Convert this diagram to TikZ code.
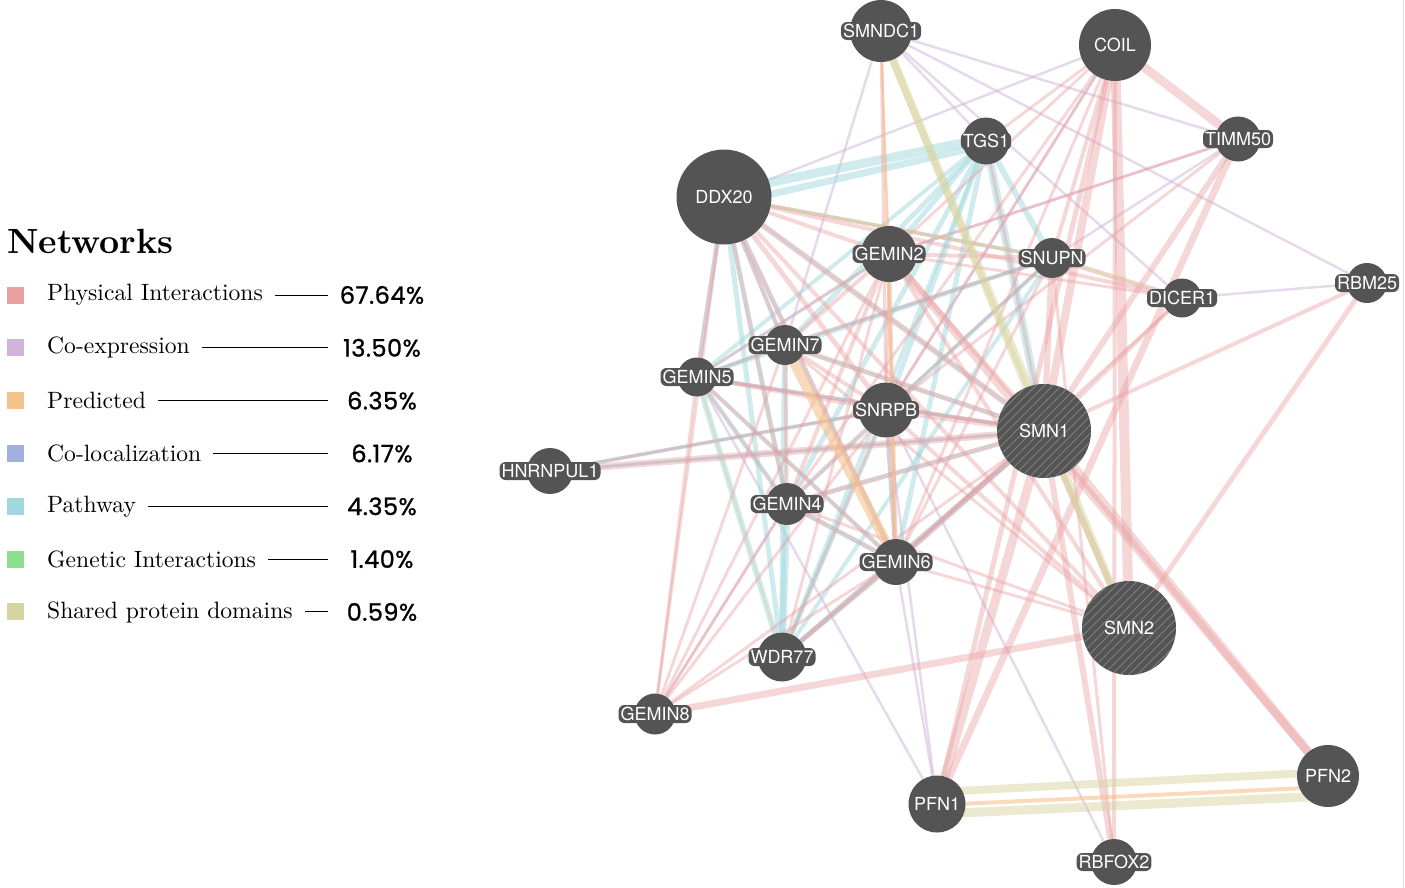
\documentclass[tikz,border=0pt]{standalone}
\usepackage{amsmath, amssymb}
\usepackage{graphicx}
\usepackage{fontspec}
\usetikzlibrary{backgrounds,patterns.meta}
\newfontfamily\heros{TeX Gyre Heros}
\newfontfamily\pctfont{Poppins}[FakeBold=1, LetterSpace=2]
\definecolor{nodegray}{HTML}{545454}
\definecolor{physc}{HTML}{E8A0A2}
\definecolor{coexpc}{HTML}{D0B4DA}
\definecolor{predc}{HTML}{F6C28C}
\definecolor{colocc}{HTML}{A0B2DC}
\definecolor{pathc}{HTML}{A0D8DE}
\definecolor{genc}{HTML}{8EE08E}
\definecolor{sharedc}{HTML}{D8D4A2}
\tikzset{
	gene/.style={circle, fill=nodegray, inner sep=0pt, minimum size=#1},
	hatched/.style={postaction={pattern={Lines[angle=45,distance=6pt,line width=0.9pt]}, pattern color=gray}},
	plainlbl/.style={text=white, font=\heros\fontsize{18}{18}\selectfont, text height=13pt, text depth=0pt, inner xsep=2pt, inner ysep=2.5pt},
	lbl/.style={plainlbl, fill=nodegray, rounded corners=6pt},
	physedge/.style={draw=physc, draw opacity=.42, line width=#1},
	coexpedge/.style={draw=coexpc, draw opacity=.5, line width=#1},
	prededge/.style={draw=predc, draw opacity=.6, line width=#1},
	pathedge/.style={draw=pathc, draw opacity=.5, line width=#1},
	sharededge/.style={draw=sharedc, draw opacity=.5, line width=#1},
	legbox/.style={fill=#1, minimum size=17pt, inner sep=0pt},
	legtxt/.style={anchor=west, inner sep=0pt},
	legpct/.style={inner sep=0pt, font=\pctfont\fontsize{24}{24}\selectfont}
}
\begin{document}
\begin{tikzpicture}[x=1pt, y=-1pt]
		\useasboundingbox (0,0) rectangle (1405,887);
		\node[gene=62pt, label={[lbl]center:SMNDC1}] (SMNDC1) at (881,31) {};
		\node[gene=72pt, label={[lbl]center:COIL}] (COIL) at (1115,45) {};
		\node[gene=47pt, label={[lbl]center:TGS1}] (TGS1) at (986,141) {};
		\node[gene=45pt, label={[lbl]center:TIMM50}] (TIMM50) at (1238,139) {};
		\node[gene=95pt, label={[lbl]center:DDX20}] (DDX20) at (724,197) {};
		\node[gene=56pt, label={[lbl]center:GEMIN2}] (GEMIN2) at (889,254) {};
		\node[gene=40pt, label={[lbl]center:SNUPN}] (SNUPN) at (1052,258) {};
		\node[gene=39pt, label={[lbl]center:DICER1}] (DICER1) at (1182,298) {};
		\node[gene=40pt, label={[lbl]center:RBM25}] (RBM25) at (1367,283) {};
		\node[gene=40pt, label={[lbl]center:GEMIN7}] (GEMIN7) at (785,345) {};
		\node[gene=39pt, label={[lbl]center:GEMIN5}] (GEMIN5) at (697,377) {};
		\node[gene=55pt, label={[lbl]center:SNRPB}] (SNRPB) at (886,410) {};
		\node[gene=94pt, hatched, label={[plainlbl]center:SMN1}] (SMN1) at (1044,431) {};
		\node[gene=46pt, label={[lbl]center:HNRNPUL1}] (HNRNPUL1) at (550,471) {};
		\node[gene=42pt, label={[lbl]center:GEMIN4}] (GEMIN4) at (787,504) {};
		\node[gene=46pt, label={[lbl]center:GEMIN6}] (GEMIN6) at (896,562) {};
		\node[gene=94pt, hatched, label={[plainlbl]center:SMN2}] (SMN2) at (1129,628) {};
		\node[gene=49pt, label={[lbl]center:WDR77}] (WDR77) at (782,657) {};
		\node[gene=41pt, label={[lbl]center:GEMIN8}] (GEMIN8) at (655,714) {};
		\node[gene=57pt, label={[lbl]center:PFN1}] (PFN1) at (937,804) {};
		\node[gene=62pt, label={[lbl]center:PFN2}] (PFN2) at (1328,776) {};
		\node[gene=46pt, label={[lbl]center:RBFOX2}] (RBFOX2) at (1114,862) {};
		\begin{scope}[on background layer]
			\foreach \a/\b in {SMNDC1/TIMM50, SMNDC1/RBM25, SMNDC1/TGS1, SMNDC1/DICER1, SMNDC1/GEMIN7, DDX20/COIL, COIL/SNRPB, TIMM50/SNUPN, TIMM50/GEMIN2, DICER1/RBM25, PFN1/SNRPB, PFN1/GEMIN5, SNRPB/RBFOX2, HNRNPUL1/SMN1, HNRNPUL1/SNRPB, GEMIN8/GEMIN4, SMN1/GEMIN5, GEMIN6/PFN1}
				\draw[coexpedge=2.5pt] (\a) -- (\b);
			\foreach \a/\b/\w in {TGS1/GEMIN2/5pt, TGS1/SNRPB/5pt, TGS1/GEMIN7/5pt, TGS1/GEMIN5/4pt, TGS1/GEMIN4/5pt, TGS1/GEMIN6/5pt, TGS1/SMN1/8pt, TGS1/SNUPN/6pt, TGS1/WDR77/4pt, SNUPN/GEMIN5/4pt, SNUPN/GEMIN7/4pt, SNUPN/DDX20/3pt, SNUPN/GEMIN4/4pt, SNUPN/WDR77/4pt, SNUPN/SNRPB/3pt, DDX20/GEMIN5/5pt, DDX20/GEMIN4/5pt, DDX20/WDR77/5pt, DDX20/GEMIN7/4pt, DDX20/GEMIN6/4pt, DDX20/SMN1/4pt, WDR77/GEMIN5/6pt, WDR77/GEMIN4/7pt, WDR77/GEMIN7/6pt, WDR77/GEMIN6/5pt, WDR77/SNRPB/5pt, WDR77/SMN1/5pt, GEMIN5/GEMIN4/5pt, GEMIN5/GEMIN6/4pt, GEMIN5/GEMIN7/4pt, GEMIN5/SMN1/4pt, GEMIN4/GEMIN6/5pt, GEMIN4/SMN1/4pt, GEMIN6/SMN1/5pt, GEMIN7/SMN1/4pt, GEMIN2/GEMIN5/3pt, HNRNPUL1/SNRPB/4pt, HNRNPUL1/SMN1/3pt, SNRPB/GEMIN6/4pt}
				\draw[pathedge=\w] (\a) -- (\b);
			\draw[pathedge=9pt] ([yshift=5pt]DDX20.center) -- ([yshift=3pt]TGS1.center);
			\draw[pathedge=7pt] ([yshift=-8pt]DDX20.center) -- ([yshift=-4pt]TGS1.center);
			\foreach \a/\b/\w in {COIL/TIMM50/9pt, COIL/SMN2/10pt, COIL/SMN1/8pt, COIL/SNUPN/4pt, COIL/GEMIN2/3pt, COIL/SNRPB/3pt, COIL/GEMIN6/3pt, COIL/GEMIN4/3pt, COIL/PFN1/5pt, COIL/TGS1/3pt, COIL/RBFOX2/4pt, TIMM50/SMN1/6pt, TIMM50/PFN1/7pt, TIMM50/GEMIN2/3pt, TIMM50/SNRPB/3pt, RBM25/SMN2/5pt, RBM25/SMN1/4pt, DICER1/SMN1/4pt, DICER1/SNUPN/5pt, DICER1/DDX20/4pt, DICER1/GEMIN2/3pt, DICER1/GEMIN6/3pt, SNUPN/SMN1/6pt, SNUPN/DDX20/4pt, SNUPN/GEMIN2/4pt, SNUPN/SNRPB/3pt, SNUPN/GEMIN7/3pt, SNUPN/GEMIN6/3pt, SNUPN/RBFOX2/3pt, SMN1/DDX20/6pt, SMN1/GEMIN2/5pt, SMN1/SNRPB/6pt, SMN1/GEMIN7/5pt, SMN1/GEMIN5/4pt, SMN1/GEMIN4/5pt, SMN1/GEMIN6/5pt, SMN1/WDR77/4pt, SMN1/GEMIN8/3pt, SMN1/HNRNPUL1/7pt, SMN1/PFN1/9pt, SMN1/PFN2/9pt, SMN1/RBFOX2/6pt, SMN1/SMN2/6pt, SMN1/TGS1/3pt, SMN2/GEMIN8/7pt, SMN2/DDX20/4pt, SMN2/GEMIN2/4pt, SMN2/SNRPB/4pt, SMN2/GEMIN7/3pt, SMN2/GEMIN6/3pt, SMN2/GEMIN4/3pt, GEMIN2/PFN2/8pt, GEMIN2/DDX20/4pt, GEMIN2/GEMIN7/4pt, GEMIN2/GEMIN5/3pt, GEMIN2/GEMIN4/4pt, GEMIN2/SNRPB/3pt, GEMIN2/GEMIN6/4pt, GEMIN2/WDR77/3pt, GEMIN2/GEMIN8/3pt, DDX20/GEMIN7/4pt, DDX20/GEMIN5/4pt, DDX20/SNRPB/5pt, DDX20/GEMIN4/4pt, DDX20/GEMIN6/5pt, DDX20/GEMIN8/3pt, SNRPB/GEMIN7/4pt, SNRPB/GEMIN5/4pt, SNRPB/GEMIN4/4pt, SNRPB/GEMIN6/4pt, SNRPB/WDR77/3pt, SNRPB/GEMIN8/3pt, SNRPB/HNRNPUL1/3pt, SNRPB/SMNDC1/3pt, GEMIN7/GEMIN5/3pt, GEMIN7/GEMIN4/4pt, GEMIN7/GEMIN8/3pt, GEMIN5/GEMIN4/3pt, GEMIN5/GEMIN6/4pt, GEMIN5/GEMIN8/3pt, GEMIN4/GEMIN6/4pt, GEMIN4/GEMIN8/3pt, GEMIN6/WDR77/4pt, GEMIN6/GEMIN8/3pt, SMNDC1/GEMIN2/2pt}
				\draw[physedge=\w] (\a) -- (\b);
			\foreach \a/\b/\w in {SMNDC1/SMN1/7pt, SMNDC1/SMN2/8pt, SMN1/SMN2/6pt, SNUPN/DICER1/3pt, DDX20/SNUPN/3pt, GEMIN5/WDR77/2pt}
				\draw[sharededge=\w] (\a) -- (\b);
			\draw[sharededge=8pt] ([yshift=12pt]PFN1.center) -- ([yshift=4pt]PFN2.center);
			\draw[sharededge=9pt] ([yshift=-10pt]PFN1.center) -- ([yshift=-20pt]PFN2.center);
			\draw[prededge=4pt] ([yshift=-1pt]PFN1.center) -- ([yshift=-11pt]PFN2.center);
			\foreach \a/\b/\w in {GEMIN7/GEMIN6/10pt, SMNDC1/GEMIN6/2.5pt, GEMIN2/GEMIN6/2pt}
				\draw[prededge=\w] (\a) -- (\b);
		\end{scope}
		\draw[black!12, line width=1pt] (1403,0) -- (1403,887);
		\node[legtxt] (title) at (7,241) {\scalebox{3.5}{\bfseries Networks}};
		\foreach \i/\col/\txt/\pct in {0/physc/Physical Interactions/67.64, 1/coexpc/Co-expression/13.50, 2/predc/Predicted/6.35, 3/colocc/Co-localization/6.17, 4/pathc/Pathway/4.35, 5/genc/Genetic Interactions/1.40, 6/sharedc/Shared protein domains/0.59} {
			\pgfmathsetmacro\yy{295+52.83*\i}
			\node[legbox=\col] (lb\i) at (15.5,\yy) {};
			\node[legtxt] (lt\i) at (47,\yy) {\scalebox{2.36}{\txt}};
			\coordinate (le\i) at (328,\yy);
			\draw[line width=1pt] ([xshift=12pt]lt\i.east) -- (le\i);
			\node[legpct] (lp\i) at (382,\yy) {\pct\%};
		}
\end{tikzpicture}
\end{document}
